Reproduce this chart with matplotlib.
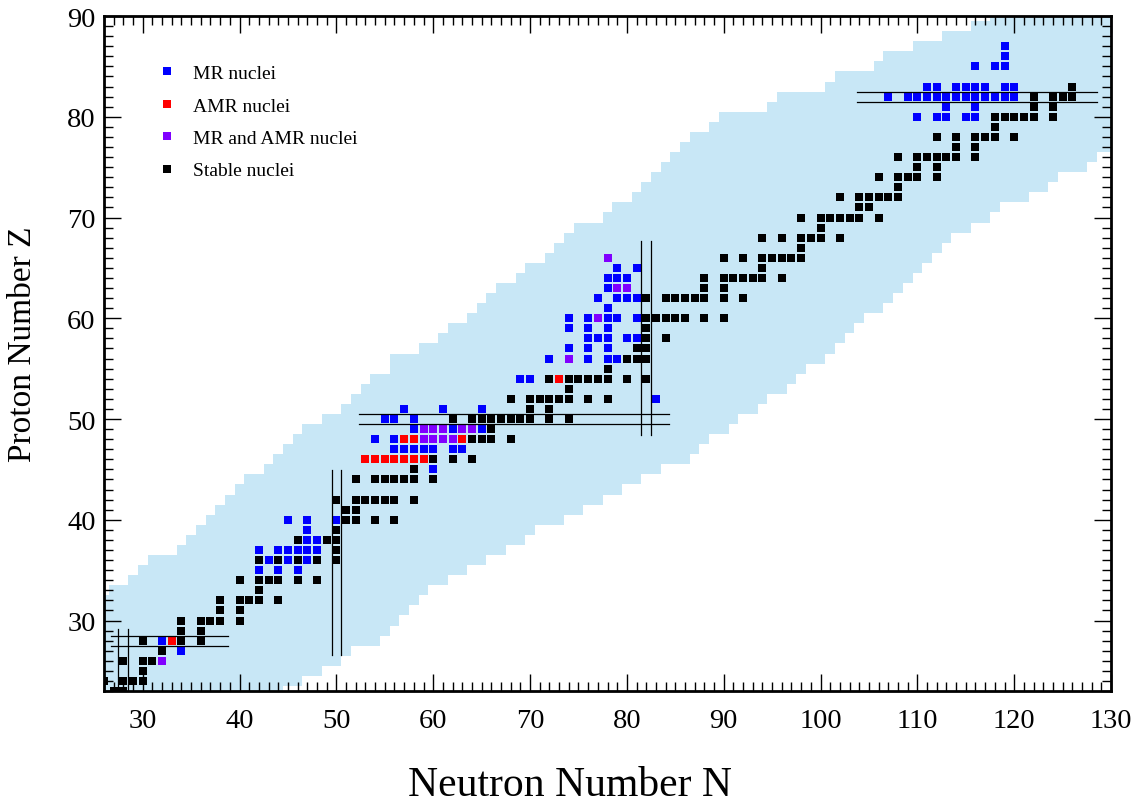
import numpy as np
import matplotlib
matplotlib.use("Agg")
import matplotlib.pyplot as plt
from matplotlib.lines import Line2D

plt.rcParams['font.family'] = ['Liberation Serif', 'DejaVu Serif']

# ---------------- data ----------------
# light-blue band: for each neutron number N, lowest and highest Z
band_N = list(range(26, 131))
band_zmin = [23, 23, 23, 23, 23, 23, 23, 23, 23, 23,
             23, 23, 23, 23, 23, 23, 23, 23, 23, 24,
             24, 25, 25, 26, 26, 27, 28, 28, 28, 29,
             30, 31, 32, 33, 34, 34, 35, 35, 36, 36,
             37, 37, 38, 38, 39, 40, 40, 40, 41, 41,
             42, 42, 43, 43, 44, 44, 45, 45, 46, 46,
             46, 47, 48, 49, 49, 50, 51, 51, 52, 53,
             53, 54, 55, 56, 56, 57, 58, 59, 60, 61,
             61, 62, 63, 64, 65, 66, 67, 68, 69, 69,
             70, 70, 71, 72, 72, 72, 73, 73, 74, 75,
             75, 75, 76, 77, 77]
band_zmax = [32, 33, 33, 34, 35, 36, 36, 36, 37, 38,
             39, 40, 41, 42, 43, 44, 44, 45, 46, 47,
             48, 49, 49, 50, 50, 51, 52, 53, 54, 54,
             56, 56, 56, 57, 57, 58, 59, 59, 60, 61,
             62, 63, 63, 64, 65, 65, 66, 67, 68, 69,
             69, 69, 70, 71, 71, 72, 73, 74, 75, 76,
             77, 78, 78, 79, 80, 80, 80, 80, 80, 81,
             82, 82, 82, 82, 82, 83, 84, 84, 84, 84,
             85, 86, 86, 86, 87, 87, 87, 88, 88, 88,
             89, 89, 90, 90, 90, 90, 90, 90, 90, 90,
             90, 90, 90, 90, 90]

# nuclei: proton number Z -> list of neutron numbers N
stable_nuclei = {
    23: [27, 28], 24: [26, 28, 29, 30], 25: [30], 26: [28, 30, 31], 27: [32],
    28: [30, 34, 36], 29: [34, 36], 30: [34, 36, 37, 38, 40], 31: [38, 40],
    32: [38, 40, 41, 42, 44], 33: [42], 34: [40, 42, 43, 44, 46, 48],
    36: [42, 44, 46, 48, 50], 37: [50], 38: [46, 49, 50], 39: [50],
    40: [51, 52, 54, 56], 41: [51, 52], 42: [50, 52, 53, 54, 55, 56, 58],
    44: [52, 54, 55, 56, 57, 58, 60], 45: [58], 46: [60, 62, 64],
    48: [64, 65, 66, 68], 49: [66], 50: [62, 64, 65, 66, 67, 68, 69, 70, 72, 74],
    51: [70, 72], 52: [68, 70, 71, 72, 73, 74, 76, 78], 53: [74],
    54: [72, 74, 75, 76, 77, 78, 80, 82], 55: [78], 56: [80, 81, 82],
    57: [81, 82], 58: [82, 84], 59: [82], 60: [82, 83, 84, 85, 86, 88, 90],
    62: [82, 84, 85, 86, 87, 88, 90, 92], 63: [88, 90],
    64: [88, 90, 91, 92, 93, 94, 96], 65: [94], 66: [90, 92, 94, 95, 96, 97, 98],
    67: [98], 68: [94, 96, 98, 99, 100, 102], 69: [100],
    70: [98, 100, 101, 102, 103, 104, 106], 71: [104, 105],
    72: [102, 104, 105, 106, 107, 108], 73: [108], 74: [106, 108, 109, 110, 112],
    75: [110, 112], 76: [108, 110, 111, 112, 113, 114, 116], 77: [114, 116],
    78: [112, 114, 116, 117, 118, 120], 79: [118],
    80: [118, 119, 120, 121, 122, 124], 81: [122, 124], 82: [122, 124, 125, 126],
    83: [126],
}
mr_nuclei = {
    27: [34], 28: [32], 35: [42, 44, 46], 36: [43, 45, 47],
    37: [42, 44, 45, 46, 47, 48], 38: [47, 48], 39: [47], 40: [45, 47, 50],
    45: [60], 47: [56, 57, 58, 59, 60, 62, 63], 48: [54, 56], 49: [58, 62, 65],
    50: [55, 56, 58], 51: [57, 61, 65], 52: [83], 54: [69, 70],
    56: [72, 76, 78, 79], 57: [74, 76, 78], 58: [76, 77, 78, 80, 81],
    59: [74, 76, 78], 60: [74, 76, 78, 79, 81], 61: [78], 62: [77, 79, 80, 81],
    63: [78], 64: [78, 79, 80], 65: [79, 81],
    80: [110, 112, 113, 115, 116], 81: [113, 116],
    82: [107, 109, 110, 111, 112, 113, 114, 115, 116, 117, 118, 119, 120],
    83: [111, 112, 114, 115, 116, 117, 119, 120],
    85: [116, 118, 119], 86: [119], 87: [119],
}
amr_nuclei = {28: [33], 46: [53, 54, 55, 56, 57, 58, 59], 48: [57, 58, 63], 54: [73]}
mr_amr_nuclei = {26: [32], 48: [59, 60, 61, 62], 49: [59, 60, 61, 63, 64],
                 56: [74], 60: [77], 63: [79, 80], 66: [78]}

# magic-number guide lines: (value, start, end)
hlines_Z = [(27.5, 26.7, 38.8), (28.5, 26.7, 38.8),
            (49.5, 52.3, 84.3), (50.5, 52.3, 84.3),
            (81.5, 103.8, 128.5), (82.5, 103.8, 128.5)]
vlines_N = [(27.5, 23.0, 29.2), (28.5, 23.0, 29.2),
            (49.5, 26.6, 44.9), (50.5, 26.6, 44.9),
            (81.5, 48.4, 67.7), (82.5, 48.4, 67.7)]

x_ticks = [30, 40, 50, 60, 70, 80, 90, 100, 110, 120, 130]
y_ticks = [30, 40, 50, 60, 70, 80, 90]

# ---------------- plot ----------------
BAND = '#c8e7f6'
COLORS = {'MR': '#0000ff', 'AMR': '#ff0000', 'MRAMR': '#8000ff', 'stable': '#000000'}


def flatten(d):
    ns, zs = [], []
    for z, nlist in d.items():
        for n in nlist:
            ns.append(n)
            zs.append(z)
    return np.array(ns), np.array(zs)


fig = plt.figure(figsize=(11.4, 8.03), dpi=100)
ax = fig.add_axes([0.0912, 0.1382, 0.8834, 0.8406])

bn = np.array(band_N, dtype=float)
xs = np.column_stack([bn - 0.5, bn + 0.5]).ravel()
lo = np.repeat(np.array(band_zmin) - 0.5, 2)
hi = np.repeat(np.array(band_zmax) + 0.5, 2)
ax.fill_between(xs, lo, hi, color=BAND, linewidth=0, zorder=1)

msize = 36
for d, key in [(stable_nuclei, 'stable'), (mr_nuclei, 'MR'),
               (amr_nuclei, 'AMR'), (mr_amr_nuclei, 'MRAMR')]:
    n, z = flatten(d)
    ax.scatter(n, z, marker='s', s=msize, c=COLORS[key], linewidths=0, zorder=3)

for z, a, b in hlines_Z:
    ax.plot([a, b], [z, z], color='black', lw=0.9, zorder=4)
for nv, a, b in vlines_N:
    ax.plot([nv, nv], [a, b], color='black', lw=0.9, zorder=4)

ax.set_xlim(26, 130)
ax.set_ylim(23, 90)
ax.set_xticks(x_ticks)
ax.set_yticks(y_ticks)
ax.set_xticks(np.arange(26, 131), minor=True)
ax.set_yticks(np.arange(23, 91), minor=True)
ax.tick_params(which='both', direction='in', top=True, right=True, width=1.0)
ax.tick_params(which='major', length=12, labelsize=20.5)
ax.tick_params(axis='x', which='major', pad=12)
ax.tick_params(axis='y', which='major', pad=6)
ax.tick_params(which='minor', length=6.5)
for s in ax.spines.values():
    s.set_linewidth(2.0)

ax.set_xlabel('Neutron Number N', fontsize=30)
ax.xaxis.set_label_coords(0.4628, -0.110)
ax.set_ylabel('Proton Number Z', fontsize=24)
ax.yaxis.set_label_coords(-0.0655, 0.515)

handles = [Line2D([], [], ls='none', marker='s', ms=6, mew=0, color=COLORS[k])
           for k in ['MR', 'AMR', 'MRAMR', 'stable']]
labels = ['MR nuclei', 'AMR nuclei', 'MR and AMR nuclei', 'Stable nuclei']
ax.legend(handles, labels, loc='upper left', bbox_to_anchor=(0.036, 0.954),
          frameon=False, fontsize=14, labelspacing=0.76, handlelength=1.0,
          handletextpad=0.8)

fig.savefig('out.png', dpi=100)
